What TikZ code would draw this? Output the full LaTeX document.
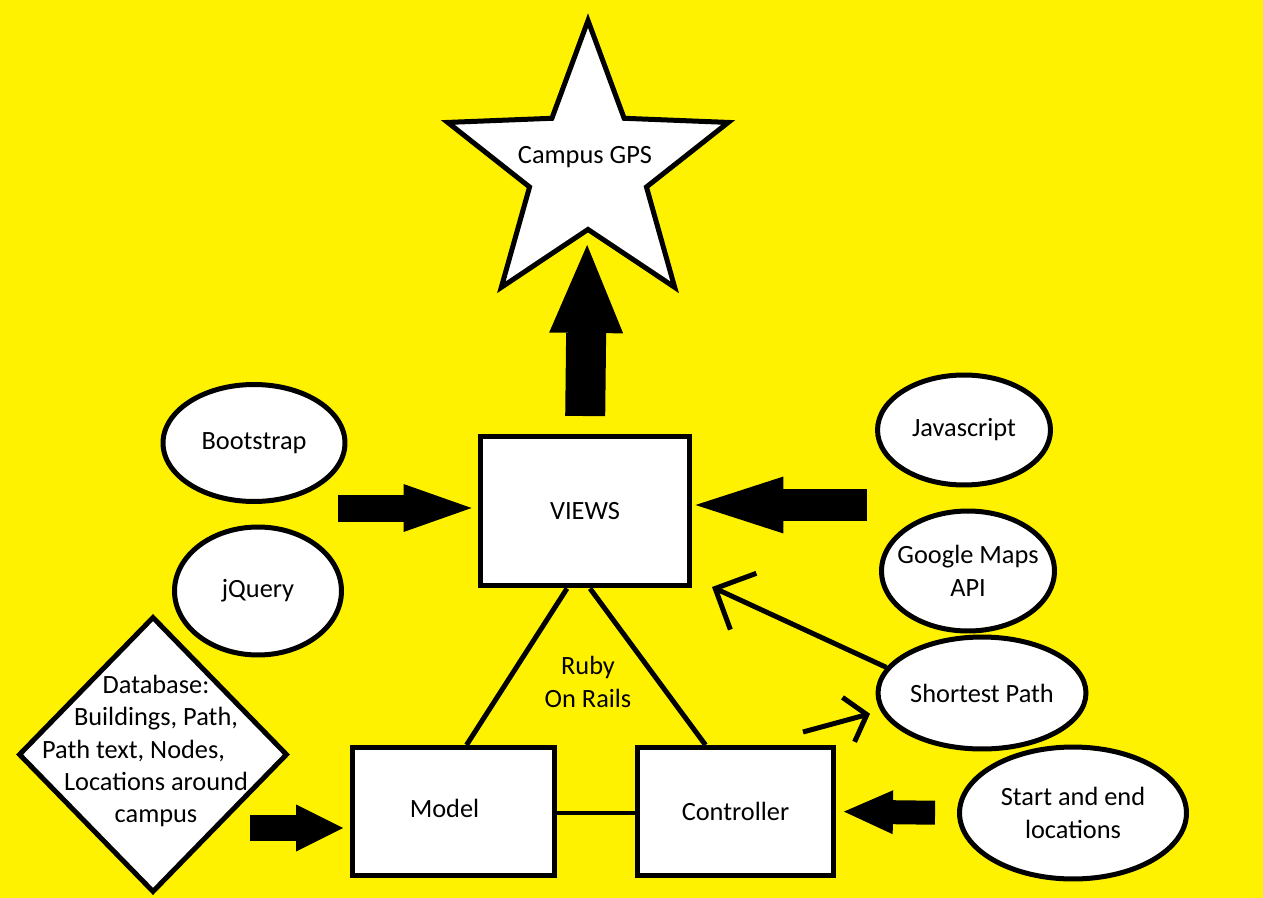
\documentclass[tikz,border=0pt]{standalone}
\usepackage{fontspec}
\setmainfont{Carlito}
\usetikzlibrary{shapes.geometric,arrows.meta,calc}
\definecolor{paintyellow}{RGB}{255,242,0}

\begin{document}
\begin{tikzpicture}[x=0.02cm, y=-0.02cm, line width=0.1cm,
    font=\fontsize{15}{18.4}\selectfont,
    oval/.style={ellipse, draw, fill=white, inner sep=0pt},
    box/.style={rectangle, draw, fill=white},
    fatarrow/.style n args={3}{line width=#1, -{Triangle[line width=0pt, length=#2, width=#3]}},
    thinarrow/.style n args={2}{-{Straight Barb[length=#1, width=#2]}}]
    % Nền vàng
    \path[fill=paintyellow, use as bounding box] (0,0) rectangle (1263,898);
    % Ngôi sao
    \node[star, star points=5, star point ratio=2.4, draw, fill=white, minimum size=5.9cm, inner sep=0pt] (gps) at (588,168) {};
    \node (gpstext) at (585,157) {Campus GPS};
    % Các khối
    \node[box, minimum width=4.2cm, minimum height=3cm] (views) at (585,511) {VIEWS};
    \node[box, minimum width=4.04cm, minimum height=2.56cm, label={[xshift=-0.18cm, yshift=0.06cm]center:Model}] (model) at (453.5,811.5) {};
    \node[box, minimum width=3.92cm, minimum height=2.56cm] (ctrl) at (735.5,811.5) {Controller};
    \node[diamond, draw, fill=white, minimum width=5.38cm, minimum height=5.52cm, inner sep=0pt] (db) at (153,754.5) {};
    \node[align=center] (dbtext) at (156,751) {Database:\\Buildings, Path,\\Path text, Nodes,\hspace*{0.9cm}\null\\Locations around\\campus};
    % Các elip
    \node[oval, minimum width=3.64cm, minimum height=2.34cm, label={center:Bootstrap}] (boot) at (254,443) {};
    \node[oval, minimum width=3.34cm, minimum height=2.56cm, label={center:jQuery}] (jq) at (258,591) {};
    \node[oval, minimum width=3.46cm, minimum height=2.2cm, label={center:Javascript}] (js) at (964,430) {};
    \node[oval, minimum width=3.46cm, minimum height=2.4cm, label={[align=center]center:Google Maps\\API}] (gmap) at (968,571) {};
    \node[oval, minimum width=4.16cm, minimum height=2.24cm, label={center:Shortest Path}] (short) at (982,693) {};
    \node[oval, minimum width=4.54cm, minimum height=2.64cm, label={[align=center]center:Start and end\\locations}] (start) at (1073,813) {};
    \node[align=center] (rails) at (588,682) {Ruby\\On Rails};
    % Ruby On Rails
    \draw ($(views.south)+(-18,0)$) -- ($(model.north)+(13,0)$);
    \draw ($(views.south)+(5,0)$) -- ($(ctrl.north)+(-30,0)$);
    \draw[line width=0.08cm] ($(model.east)+(0,1.5)$) -- ($(ctrl.west)+(0,1.5)$);
    % Mũi tên lớn
    \coordinate (bootfrom) at (338,508);
    \coordinate (jsfrom) at (867,505);
    \coordinate (dbfrom) at (250,828);
    \draw[fatarrow={0.54cm}{1.36cm}{0.96cm}, shorten >=0.12cm] (bootfrom) -- (bootfrom -| views.west);
    \draw[fatarrow={0.64cm}{1.76cm}{1.14cm}, shorten >=0.06cm] (jsfrom) -- (jsfrom -| views.east);
    \draw[fatarrow={0.8cm}{1.76cm}{1.48cm}, shorten <=0.35cm, shorten >=1.54cm] (views.north) -- (gps.center);
    \draw[fatarrow={0.52cm}{0.94cm}{0.94cm}, shorten >=0.14cm] (dbfrom) -- (dbfrom -| model.west);
    \draw[fatarrow={0.48cm}{0.98cm}{0.88cm}, shorten <=0.44cm, shorten >=0.16cm] (start.west) -- (ctrl.east);
    % Mũi tên nhỏ
    \coordinate (viewsin) at (712,587);
    \coordinate (ctrlout) at (803,732);
    \draw[thinarrow={0.62cm}{1.24cm}] (short.165) -- (viewsin);
    \draw[thinarrow={0.38cm}{0.92cm}, shorten >=0.22cm] (ctrlout) -- (short.190);
\end{tikzpicture}
\end{document}
